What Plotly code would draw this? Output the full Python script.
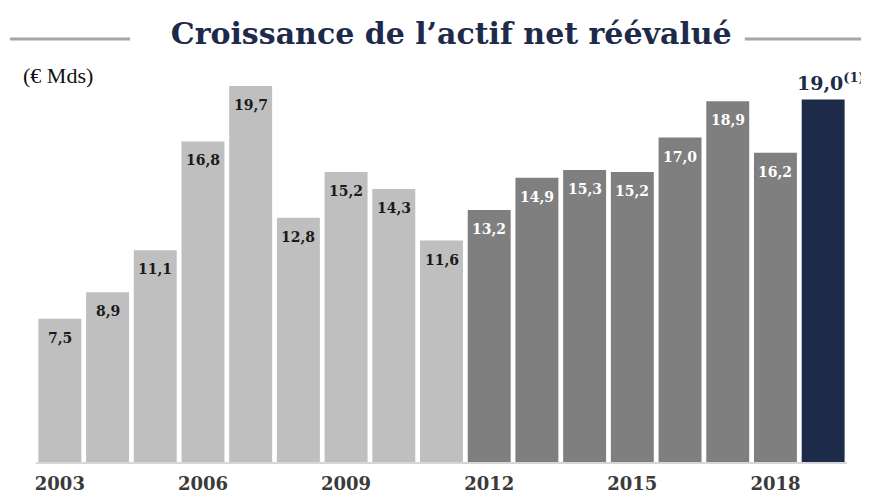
import plotly.graph_objects as go

years = list(range(2003, 2020))
values = [7.5, 8.9, 11.1, 16.8, 19.7, 12.8, 15.2, 14.3, 11.6, 13.2, 14.9, 15.3, 15.2, 17.0, 18.9, 16.2, 19.0]
labels = ["7,5", "8,9", "11,1", "16,8", "19,7", "12,8", "15,2", "14,3", "11,6",
          "13,2", "14,9", "15,3", "15,2", "17,0", "18,9", "16,2", "19,0"]
tick_years = [2003, 2006, 2009, 2012, 2015, 2018]

LIGHT = "#bfbfbf"
DARK = "#7f7f7f"
NAVY = "#1d2a4a"

colors = [LIGHT if y <= 2011 else (DARK if y <= 2018 else NAVY) for y in years]

fig = go.Figure(go.Bar(x=years, y=values, marker_color=colors, marker_line_width=0,
                       hoverinfo="skip"))

SERIF = "DejaVu Serif"
for y, v, lab, c in zip(years, values, labels, colors):
    if c == NAVY:
        fig.add_annotation(x=y, y=v, text=lab + "<sup><span style='font-size:13px'>(1)</span></sup>",
                           showarrow=False, yanchor="bottom", yshift=3, xshift=8,
                           font=dict(family=SERIF, size=19, color=NAVY, weight="bold"))
    else:
        fig.add_annotation(x=y, y=v, text=lab, showarrow=False, yanchor="top", yshift=-9,
                           font=dict(family=SERIF, size=14,
                                     color="#1a1a1a" if c == LIGHT else "white", weight="bold"))

fig.add_annotation(xref="paper", yref="paper", x=-0.018, y=0.987, xanchor="left", yanchor="middle",
                   text="(€ Mds)", showarrow=False,
                   font=dict(family="Liberation Serif", size=22, color="#111111"))

fig.update_layout(
    width=869, height=498,
    margin=dict(l=28, r=30, t=62, b=44),
    plot_bgcolor="white", paper_bgcolor="white",
    bargap=0.1,
    showlegend=False,
    title=dict(text="<b>Croissance de l’actif net réévalué</b>", x=0.512, xanchor="center",
               xref="paper", y=0.948, yanchor="middle",
               font=dict(family=SERIF, size=30, color=NAVY)),
    xaxis=dict(tickmode="array", tickvals=tick_years, ticktext=[str(t) for t in tick_years],
               showgrid=False, zeroline=False, showline=True, linecolor="#d6d6d6", linewidth=2,
               ticks="", range=[2002.5, 2019.5], ticklabelstandoff=4,
               tickfont=dict(family=SERIF, size=18, color="#3a3a3a", weight="bold")),
    yaxis=dict(range=[0, 20.54], visible=False, showgrid=False, zeroline=False),
    shapes=[
        dict(type="line", xref="paper", yref="paper", x0=-0.032, x1=0.116, y0=1.079, y1=1.079,
             line=dict(color="#a6a6a6", width=3)),
        dict(type="line", xref="paper", yref="paper", x0=0.874, x1=1.022, y0=1.079, y1=1.079,
             line=dict(color="#a6a6a6", width=3)),
    ],
)

fig.write_html("out.html")
